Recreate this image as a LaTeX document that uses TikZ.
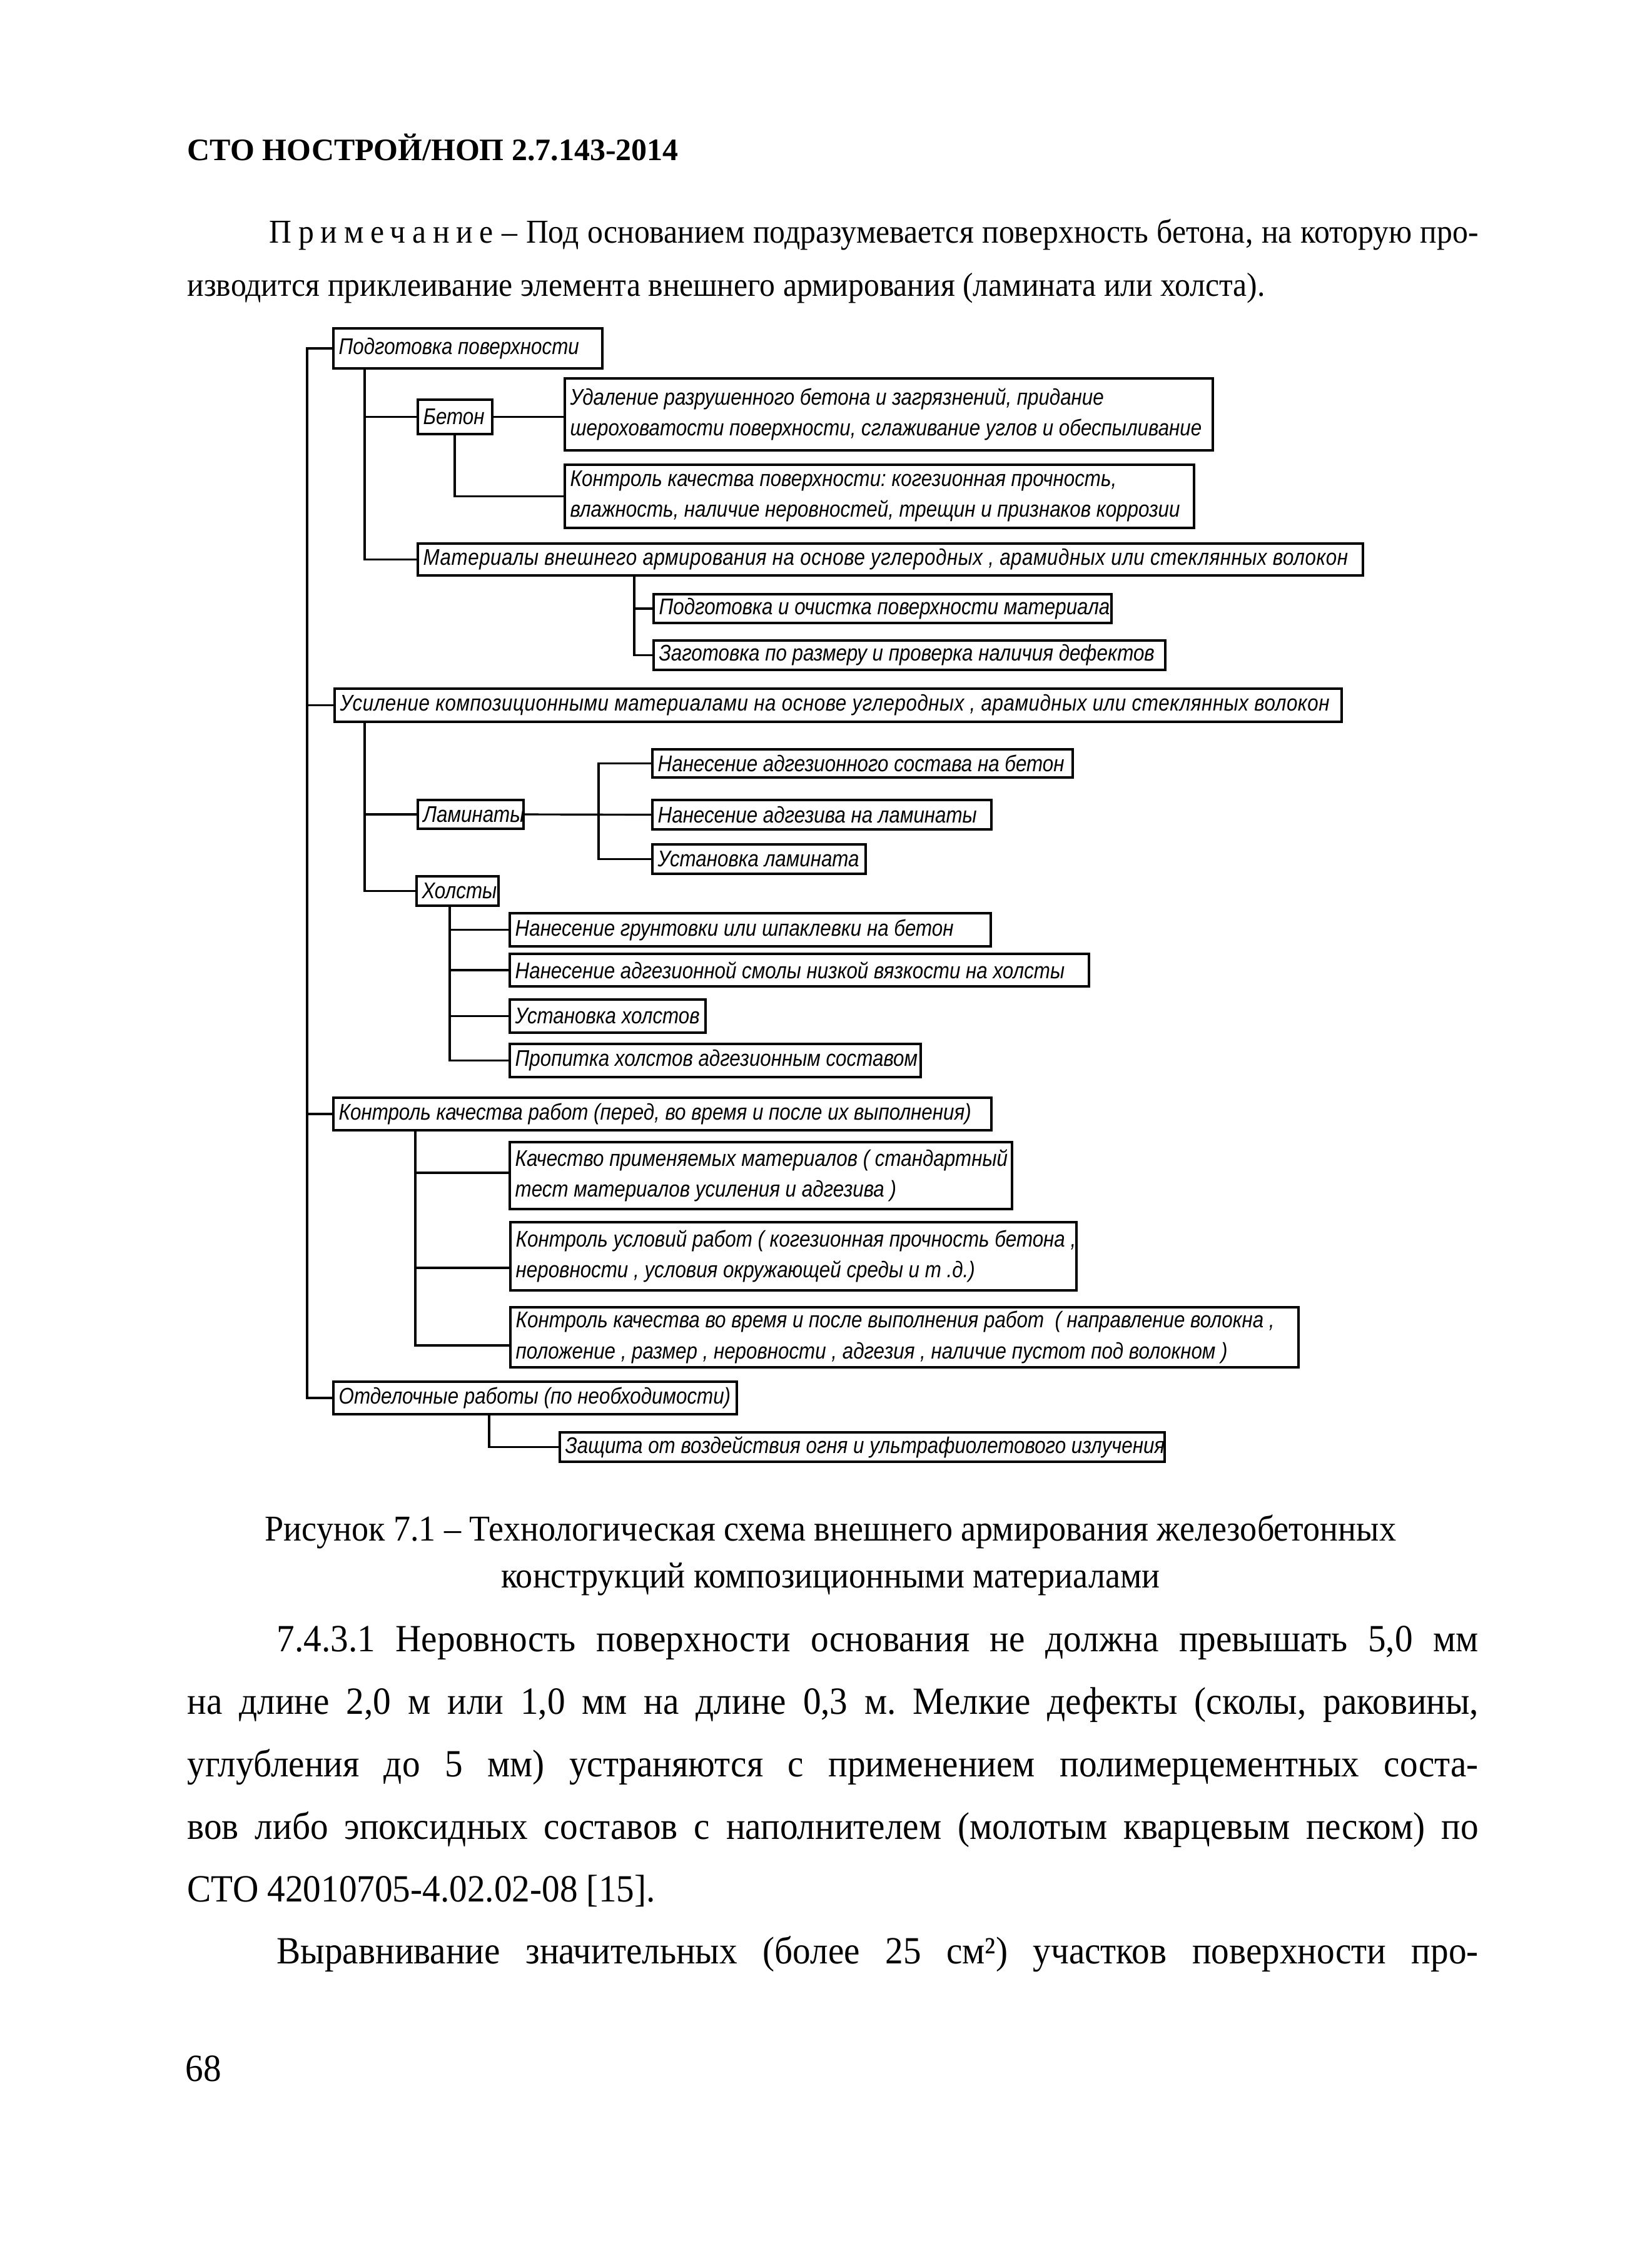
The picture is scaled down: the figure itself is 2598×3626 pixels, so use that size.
\documentclass[tikz,border=0pt]{standalone}
\usepackage{fontspec}
\newfontfamily\bodyf[FakeStretch=0.93]{Liberation Serif}
\newfontfamily\headf{Liberation Serif}
\newfontfamily\boxfam[FakeStretch=0.865]{Liberation Sans}
\usetikzlibrary{calc}
\frenchspacing
\newcommand\bodyfont{\bodyf\frenchspacing\fontsize{17.5}{20}\selectfont}
\newcommand\notefont{\bodyf\frenchspacing\fontsize{15.2}{18}\selectfont}
\newcommand\capfont{\bodyf\frenchspacing\fontsize{16.55}{19}\selectfont}
\newcommand\boxfont{\boxfam\itshape\fontsize{10.3}{14}\selectfont}
\newcommand\mkbox[6]{%
 \pgfmathsetmacro\myBW{(#4-#2)*0.01}%
 \pgfmathsetmacro\myBH{(#5-#3)*0.01}%
 \node[bx, minimum width=\myBW cm, minimum height=\myBH cm] (#1) at (#2,#3) {};%
 \node[bxt] (#1t) at ([xshift=0.08cm]#1.west) {#6};}
\begin{document}
\begin{tikzpicture}[x=0.01cm,y=-0.01cm,
  bx/.style={draw, line width=1.1pt, inner sep=0pt, outer sep=0pt, anchor=north west},
  bxt/.style={anchor=west, inner sep=0pt, align=left, font=\boxfont},
  ln/.style={line width=0.9pt},
  body/.style={anchor=base west, inner sep=0pt, font=\bodyfont},
  note/.style={anchor=base west, inner sep=0pt, font=\notefont},
  capt/.style={anchor=base, inner sep=0pt, font=\capfont}]
\path[use as bounding box, fill=white] (0,0) rectangle (2598,3626);

% header and note
\node[anchor=base west, inner sep=0pt, font=\headf\bfseries\fontsize{14.2}{17}\selectfont] (hdr) at (299,256) {СТО НОСТРОЙ/НОП 2.7.143-2014};
\node[note] (n1) at (430,388) {\makebox[19.32cm][s]{{\addfontfeature{LetterSpace=20}Примечание} – Под основанием подразумевается поверхность бетона, на которую про-}};
\node[note] (n2) at (299,473) {изводится приклеивание элемента внешнего армирования (ламината или холста).};

% coordinates of vertical rails
\coordinate (T) at (491,0);
\coordinate (S1) at (583,0);
\coordinate (S2) at (727,0);
\coordinate (S3) at (1014,0);
\coordinate (S4) at (957,0);
\coordinate (S5) at (719,0);
\coordinate (S6) at (664,0);
\coordinate (S7) at (782,0);

% boxes
\mkbox{b1}{533}{525}{963}{589}{Подготовка поверхности}
\mkbox{beton}{668}{639}{787}{694}{Бетон}
\mkbox{ud}{903}{605}{1939}{720}{Удаление разрушенного бетона и загрязнений, придание\\шероховатости поверхности, сглаживание углов и обеспыливание}
\mkbox{kp}{903}{743}{1909}{844}{Контроль качества поверхности: когезионная прочность,\\влажность, наличие неровностей, трещин и признаков коррозии}
\mkbox{mat}{668}{869}{2179}{920}{\addfontfeature{LetterSpace=1.5}Материалы внешнего армирования на основе углеродных , арамидных или стеклянных волокон}
\mkbox{pod}{1045}{950}{1777}{996}{Подготовка и очистка поверхности материала}
\mkbox{zag}{1045}{1024}{1863}{1071}{Заготовка по размеру и проверка наличия дефектов}

\mkbox{b2}{535}{1101}{2145}{1154}{\addfontfeature{LetterSpace=1.5}Усиление композиционными материалами на основе углеродных , арамидных или стеклянных волокон}
\mkbox{lam}{668}{1279}{837}{1325}{Ламинаты}
\mkbox{la1}{1043}{1198}{1715}{1243}{Нанесение адгезионного состава на бетон}
\mkbox{la2}{1043}{1279}{1585}{1326}{Нанесение адгезива на ламинаты}
\mkbox{la3}{1043}{1350}{1384}{1397}{Установка ламината}
\mkbox{hol}{666}{1401}{797}{1448}{Холсты}
\mkbox{h1}{815}{1460}{1584}{1513}{Нанесение грунтовки или шпаклевки на бетон}
\mkbox{h2}{815}{1525}{1741}{1577}{Нанесение адгезионной смолы низкой вязкости на холсты}
\mkbox{h3}{815}{1598}{1128}{1651}{Установка холстов}
\mkbox{h4}{815}{1669}{1472}{1722}{Пропитка холстов адгезионным составом}

\mkbox{b3}{533}{1755}{1585}{1807}{Контроль качества работ (перед, во время и после их выполнения)}
\mkbox{k1}{815}{1826}{1618}{1933}{Качество применяемых материалов ( стандартный\\тест материалов усиления и адгезива )}
\mkbox{k2}{816}{1954}{1721}{2063}{Контроль условий работ ( когезионная прочность бетона ,\\неровности , условия окружающей среды и т .д.)}
\mkbox{k3}{816}{2090}{2076}{2186}{Контроль качества во время и после выполнения работ \ ( направление волокна ,\\положение , размер , неровности , адгезия , наличие пустот под волокном )}

\mkbox{b4}{533}{2209}{1178}{2261}{Отделочные работы (по необходимости)}
\mkbox{z}{895}{2290}{1862}{2337}{Защита от воздействия огня и ультрафиолетового излучения}

% connectors
\draw[ln] (b1.west) -- (b1.west -| T) |- (b4.west);
\draw[ln] (b2.west -| T) -- (b2.west);
\draw[ln] (b3.west -| T) -- (b3.west);

\draw[ln] (b1.south -| S1) |- (mat.west);
\draw[ln] (beton.west -| S1) -- (beton.west);
\draw[ln] (beton.east) -- (beton.east -| ud.west);
\draw[ln] (beton.south -| S2) |- (kp.west);
\draw[ln] (mat.south -| S3) |- (zag.west);
\draw[ln] (pod.west -| S3) -- (pod.west);

\draw[ln] (b2.south -| S1) |- (hol.west);
\draw[ln] (lam.west -| S1) -- (lam.west);
\draw[ln] (lam.east) -- (la2.west);
\draw[ln] (la1.west) -- (la1.west -| S4) -- (la3.west -| S4) -- (la3.west);
\draw[ln] (hol.south -| S5) |- (h4.west);
\draw[ln] (h1.west -| S5) -- (h1.west);
\draw[ln] (h2.west -| S5) -- (h2.west);
\draw[ln] (h3.west -| S5) -- (h3.west);

\draw[ln] (b3.south -| S6) |- ([yshift=-0.13cm]k3.west);
\draw[ln] ([yshift=0.045cm]k1.west -| S6) -- ([yshift=0.045cm]k1.west);
\draw[ln] ([yshift=-0.185cm]k2.west -| S6) -- ([yshift=-0.185cm]k2.west);

\draw[ln] (b4.south -| S7) |- (z.west);

% caption
\node[capt] (c1) at (1328,2463) {Рисунок 7.1 – Технологическая схема внешнего армирования железобетонных};
\node[capt] (c2) at (1328,2538) {конструкций композиционными материалами};

% body text
\node[body] (l1) at (442,2640) {\makebox[19.20cm][s]{7.4.3.1 Неровность поверхности основания не должна превышать 5,0 мм}};
\node[body] (l2) at (299,2740) {\makebox[20.63cm][s]{на длине 2,0 м или 1,0 мм на длине 0,3 м. Мелкие дефекты (сколы, раковины,}};
\node[body] (l3) at (299,2840) {\makebox[20.63cm][s]{углубления до 5 мм) устраняются с применением полимерцементных соста-}};
\node[body] (l4) at (299,2940) {\makebox[20.63cm][s]{вов либо эпоксидных составов с наполнителем (молотым кварцевым песком) по}};
\node[body] (l5) at (299,3040) {СТО 42010705-4.02.02-08 [15].};
\node[body] (l6) at (442,3139) {\makebox[19.20cm][s]{Выравнивание значительных (более 25 см²) участков поверхности про-}};
\node[body] (pn) at (296,3327) {68};
\end{tikzpicture}
\end{document}
